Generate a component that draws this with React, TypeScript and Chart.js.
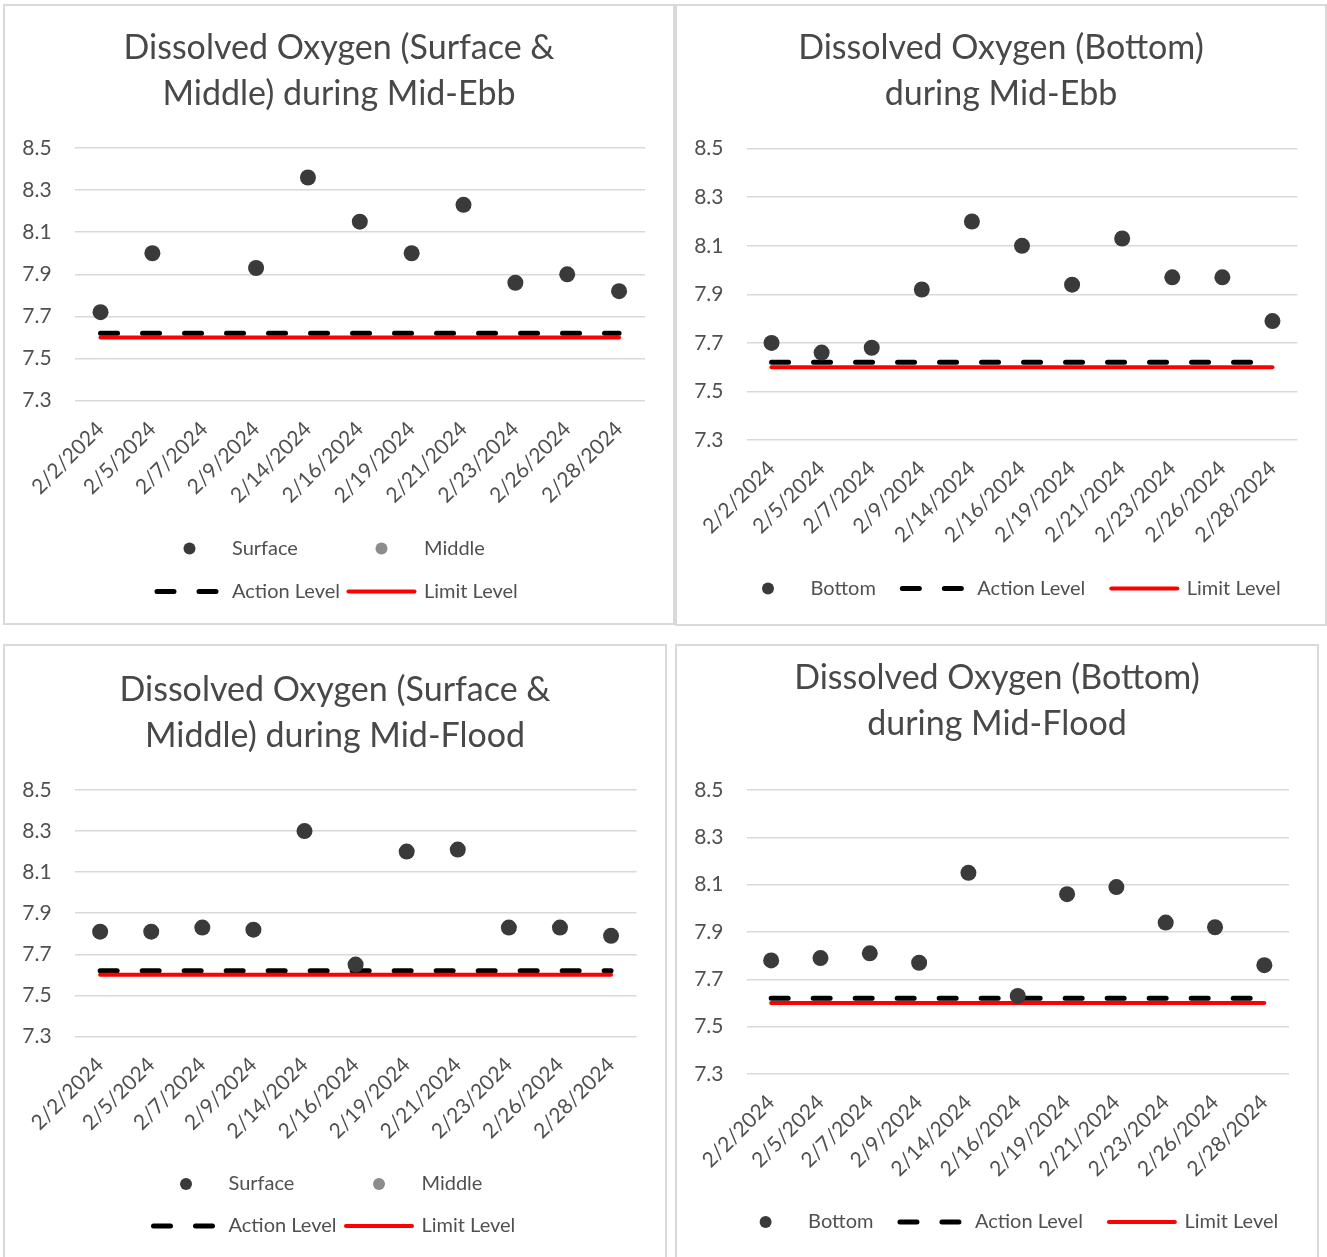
import React, { useEffect, useRef } from "react";
import { Chart, registerables } from "chart.js";

Chart.register(...registerables);

const FONT = "Lato, 'Noto Sans', sans-serif";
const TEXT = "#505050";
const TITLE = "#484848";
const DARK = "#3a3a3a";
const GRAY = "#8c8c8c";
const GRID = "#d9d9d9";

// ---------------- data ----------------
const dates = [
  "2/2/2024", "2/5/2024", "2/7/2024", "2/9/2024", "2/14/2024", "2/16/2024",
  "2/19/2024", "2/21/2024", "2/23/2024", "2/26/2024", "2/28/2024",
];
const yTicks = [7.3, 7.5, 7.7, 7.9, 8.1, 8.3, 8.5];

const ebbSurface = [7.72, 8.0, null, 7.93, 8.36, 8.15, 8.0, 8.23, 7.86, 7.9, 7.82];
const ebbMiddle = [null, null, null, null, null, null, null, null, null, null, null];
const ebbBottom = [7.7, 7.66, 7.68, 7.92, 8.2, 8.1, 7.94, 8.13, 7.97, 7.97, 7.79];

const floodSurface = [7.81, 7.81, 7.83, 7.82, 8.3, 7.65, 8.2, 8.21, 7.83, 7.83, 7.79];
const floodMiddle = [null, null, null, null, null, null, null, null, null, null, null];
const floodBottom = [7.78, 7.79, 7.81, 7.77, 8.15, 7.63, 8.06, 8.09, 7.94, 7.92, 7.76];

const actionLevel = [7.62, 7.62, 7.62, 7.62, 7.62, 7.62, 7.62, 7.62, 7.62, 7.62, 7.62];
const limitLevel = [7.6, 7.6, 7.6, 7.6, 7.6, 7.6, 7.6, 7.6, 7.6, 7.6, 7.6];

// ---------------- plugins ----------------
const titlePlugin = {
  id: "titleLines",
  afterDraw(chart: any, _args: any, opts: any) {
    const ctx = chart.ctx;
    ctx.save();
    ctx.font = `${opts.size}px ${FONT}`;
    ctx.fillStyle = TITLE;
    ctx.textAlign = "center";
    ctx.textBaseline = "middle";
    opts.lines.forEach((t: string, i: number) => {
      ctx.fillText(t, chart.width / 2, opts.y[i]);
    });
    ctx.restore();
  },
};

const SAMPLE_W = 70;
const TEXT_OFF = 77.5;

const legendPlugin = {
  id: "customLegend",
  afterDraw(chart: any, _args: any, opts: any) {
    const ctx = chart.ctx;
    const datasets = chart.data.datasets;
    ctx.save();
    ctx.font = `${opts.size}px ${FONT}`;
    ctx.textBaseline = "middle";
    ctx.textAlign = "left";
    opts.rows.forEach((row: number[], r: number) => {
      const y = opts.rowY[r];
      let x = opts.left;
      row.forEach((idx: number, c: number) => {
        const ds = datasets[idx];
        const sx = opts.colWidth ? opts.left + c * opts.colWidth : x;
        if (ds.showLine === false) {
          ctx.beginPath();
          ctx.fillStyle = ds.pointBackgroundColor;
          ctx.arc(sx + SAMPLE_W / 2, y, 6, 0, Math.PI * 2);
          ctx.fill();
        } else {
          const w = ds.borderWidth;
          ctx.beginPath();
          ctx.strokeStyle = ds.borderColor;
          ctx.lineWidth = w;
          ctx.lineCap = "round";
          ctx.setLineDash(ds.borderDash || []);
          ctx.moveTo(sx + w / 2, y);
          ctx.lineTo(sx + SAMPLE_W - w / 2, y);
          ctx.stroke();
          ctx.setLineDash([]);
        }
        ctx.fillStyle = TEXT;
        ctx.fillText(ds.label, sx + TEXT_OFF, y);
        x = sx + TEXT_OFF + ctx.measureText(ds.label).width + 24;
      });
    });
    ctx.restore();
  },
};

// ---------------- panels ----------------
type Series = { label: string; data: (number | null)[]; color: string };

const panels = [
  {
    box: { left: 3, top: 4, width: 672, height: 621 },
    title: ["Dissolved Oxygen (Surface &", "Middle) during Mid-Ebb"],
    titleY: [42, 88.4],
    series: [
      { label: "Surface", data: ebbSurface, color: DARK },
      { label: "Middle", data: ebbMiddle, color: GRAY },
    ] as Series[],
    plot: { left: 69.6, rightPad: 28, top: 142, bottom: 394.6 },
    legend: { rows: [[0, 1], [2, 3]], rowY: [542.4, 585.4], left: 149.5, colWidth: 192 },
  },
  {
    box: { left: 675, top: 4, width: 652, height: 622 },
    title: ["Dissolved Oxygen (Bottom)", "during Mid-Ebb"],
    titleY: [42, 88.4],
    series: [{ label: "Bottom", data: ebbBottom, color: DARK }] as Series[],
    plot: { left: 69.5, rightPad: 27.5, top: 142.7, bottom: 434 },
    legend: { rows: [[0, 1, 2]], rowY: [582.6], left: 56, colWidth: 0 },
  },
  {
    box: { left: 3, top: 644, width: 664, height: 640 },
    title: ["Dissolved Oxygen (Surface &", "Middle) during Mid-Flood"],
    titleY: [44, 90],
    series: [
      { label: "Surface", data: floodSurface, color: DARK },
      { label: "Middle", data: floodMiddle, color: GRAY },
    ] as Series[],
    plot: { left: 69.6, rightPad: 28.4, top: 144, bottom: 390.4 },
    legend: { rows: [[0, 1], [2, 3]], rowY: [538, 580], left: 146, colWidth: 193 },
  },
  {
    box: { left: 675, top: 644, width: 644, height: 640 },
    title: ["Dissolved Oxygen (Bottom)", "during Mid-Flood"],
    titleY: [32, 78],
    series: [{ label: "Bottom", data: floodBottom, color: DARK }] as Series[],
    plot: { left: 69.5, rightPad: 28, top: 144, bottom: 428 },
    legend: { rows: [[0, 1, 2]], rowY: [576], left: 53.6, colWidth: 0 },
  },
];

const X_AXIS_H = 130;

function buildConfig(p: (typeof panels)[number]): any {
  const canvasH = p.box.height - 4;
  const pointSets = p.series.map((s, i) => ({
    label: s.label,
    data: s.data,
    showLine: false,
    pointRadius: 8,
    pointHoverRadius: 8,
    pointBorderWidth: 0,
    pointBackgroundColor: s.color,
    pointBorderColor: s.color,
    borderColor: s.color,
    backgroundColor: s.color,
    order: i,
  }));
  const n = pointSets.length;
  const datasets = [
    ...pointSets,
    {
      label: "Action Level",
      data: actionLevel,
      borderColor: "#000000",
      backgroundColor: "#000000",
      borderWidth: 5,
      borderDash: [17, 25],
      borderCapStyle: "round",
      pointRadius: 0,
      pointHoverRadius: 0,
      fill: false,
      order: n + 1,
    },
    {
      label: "Limit Level",
      data: limitLevel,
      borderColor: "#ff0000",
      backgroundColor: "#ff0000",
      borderWidth: 4,
      borderCapStyle: "round",
      pointRadius: 0,
      pointHoverRadius: 0,
      fill: false,
      order: n,
    },
  ];
  return {
    type: "line",
    data: { labels: dates, datasets },
    plugins: [titlePlugin, legendPlugin],
    options: {
      responsive: false,
      animation: false,
      events: [],
      layout: {
        padding: {
          left: 0,
          right: p.plot.rightPad,
          top: p.plot.top,
          bottom: canvasH - p.plot.bottom - X_AXIS_H,
        },
      },
      plugins: {
        legend: { display: false },
        title: { display: false },
        tooltip: { enabled: false },
        titleLines: { lines: p.title, y: p.titleY, size: 34 },
        customLegend: { ...p.legend, size: 20 },
      },
      scales: {
        x: {
          type: "category",
          offset: true,
          grid: { display: false, drawTicks: false },
          border: { display: false },
          ticks: {
            autoSkip: false,
            minRotation: 45,
            maxRotation: 45,
            padding: 16,
            color: TEXT,
            font: { family: FONT, size: 21 },
          },
          afterFit: (scale: any) => {
            scale.height = X_AXIS_H;
          },
        },
        y: {
          type: "linear",
          min: yTicks[0],
          max: yTicks[yTicks.length - 1],
          afterBuildTicks: (scale: any) => {
            scale.ticks = yTicks.map((v) => ({ value: v }));
          },
          grid: { color: GRID, lineWidth: 1.5, drawTicks: false },
          border: { display: false },
          ticks: {
            padding: 23,
            color: TEXT,
            font: { family: FONT, size: 21 },
            callback: (v: any) => Number(v).toFixed(1),
          },
          afterFit: (scale: any) => {
            scale.width = p.plot.left;
          },
        },
      },
    },
  };
}

function Panel({ p }: { p: (typeof panels)[number] }) {
  const ref = useRef<HTMLCanvasElement>(null);
  useEffect(() => {
    if (!ref.current) return;
    const chart = new Chart(ref.current, buildConfig(p));
    return () => chart.destroy();
  }, [p]);
  return (
    <div
      style={{
        position: "absolute",
        left: p.box.left,
        top: p.box.top,
        width: p.box.width,
        height: p.box.height,
        border: `2px solid ${GRID}`,
        boxSizing: "border-box",
        background: "#ffffff",
      }}
    >
      <canvas
        ref={ref}
        width={p.box.width - 4}
        height={p.box.height - 4}
        style={{ display: "block" }}
      />
    </div>
  );
}

export default function App() {
  return (
    <div
      style={{
        position: "absolute",
        left: 0,
        top: 0,
        width: 1327,
        height: 1257,
        overflow: "hidden",
        background: "#ffffff",
      }}
    >
      {panels.map((p, i) => (
        <Panel key={i} p={p} />
      ))}
    </div>
  );
}
